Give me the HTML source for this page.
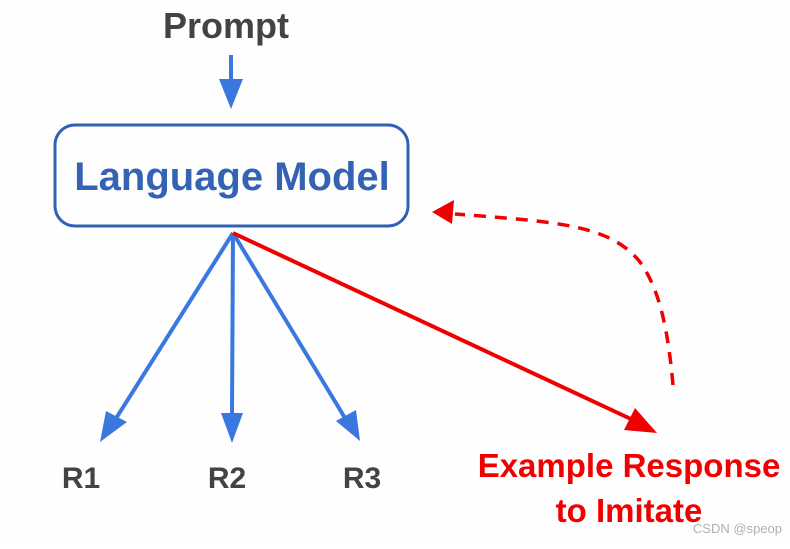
<!DOCTYPE html>
<html><head><meta charset="utf-8"><style>
html,body{margin:0;padding:0;background:#fff;}
body{width:790px;height:544px;overflow:hidden;}
</style></head><body>
<svg width="790" height="544" viewBox="0 0 790 544" xmlns="http://www.w3.org/2000/svg" font-family="Liberation Sans, Arial, sans-serif" font-weight="bold">
<rect x="0" y="0" width="790" height="544" fill="#fefefe"/>
<text x="226" y="38" text-anchor="middle" font-size="36" fill="#434343">Prompt</text>
<line x1="231" y1="55" x2="231" y2="82" stroke="#3a78e0" stroke-width="4"/>
<polygon points="219,79 243,79 231,109" fill="#3a78e0"/>
<rect x="55" y="125" width="353" height="101" rx="20" fill="none" stroke="#2f62b0" stroke-width="3"/>
<text x="232" y="190" text-anchor="middle" font-size="40" fill="#3563b4">Language Model</text>
<g stroke="#3a78e0" stroke-width="4">
<line x1="233" y1="233" x2="115" y2="420"/>
<line x1="233" y1="233" x2="232" y2="415"/>
<line x1="233" y1="233" x2="345" y2="418"/>
</g>
<polygon points="100,442 106,411 127,422" fill="#3a78e0"/>
<polygon points="232,443 221,413 243,413" fill="#3a78e0"/>
<polygon points="360,441 336,421 356,410" fill="#3a78e0"/>
<line x1="233" y1="233" x2="633" y2="420" stroke="#f00000" stroke-width="4"/>
<polygon points="657,433 624,430 635,408" fill="#f00000"/>
<path d="M673,385 C668,330 660,290 640,262 C610,225 560,222 455,214" fill="none" stroke="#f00000" stroke-width="3.5" stroke-dasharray="12,9"/>
<polygon points="432,212 454,200 452,224" fill="#f00000"/>
<text x="81" y="488" text-anchor="middle" font-size="30" fill="#434343">R1</text>
<text x="227" y="488" text-anchor="middle" font-size="30" fill="#434343">R2</text>
<text x="362" y="488" text-anchor="middle" font-size="30" fill="#434343">R3</text>
<text x="629" y="477" text-anchor="middle" font-size="33" fill="#f00000">Example Response</text>
<text x="629" y="522" text-anchor="middle" font-size="33" fill="#f00000">to Imitate</text>
<text x="782" y="533" text-anchor="end" font-size="13" font-weight="normal" fill="#b0b0b0">CSDN @speop</text>
</svg>
</body></html>
